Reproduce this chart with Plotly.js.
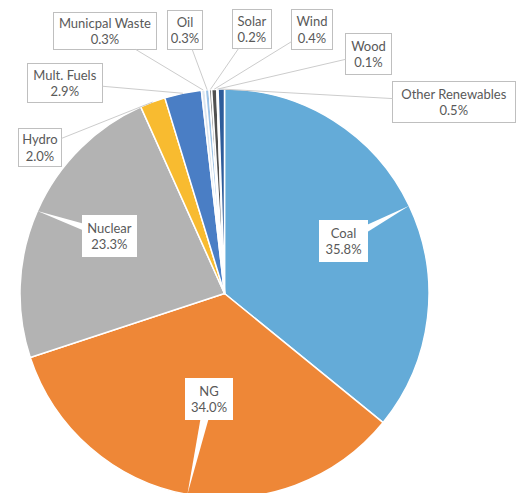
<!DOCTYPE html>
<html><head><meta charset="utf-8">
<script src="https://cdn.plot.ly/plotly-3.0.1.min.js"></script>
<style>html,body{margin:0;padding:0;overflow:hidden;background:#fff}#chart{width:521px;height:510px}</style>
</head><body><div id="chart"></div>
<script>
// ---- data ----
const sources = ['Coal','NG','Nuclear','Hydro','Mult. Fuels','Municpal Waste','Oil','Solar','Wind','Wood','Other Renewables'];
const shares  = [35.8, 34.0, 23.3, 2.0, 2.9, 0.3, 0.3, 0.2, 0.4, 0.1, 0.5];
const sliceColors = ['#64ABD8','#EE8737','#B3B3B3','#F8BB30','#4A7EC5','#DCE6F0','#9DC3E6','#8C8C8C','#505050','#D0D0D0','#2E5C9A'];

// ---- layout of callout boxes (pixel centres and sizes) ----
const boxCenterX = [343.5, 209, 109.5, 40, 65, 105, 185, 252, 312, 368.5, 454];
const boxCenterY = [241, 399, 236, 147, 83, 31, 30, 29, 29, 54, 102];
const boxW = [49, 48, 55, 44, 76, 104, 36, 40, 42, 47, 124];
const boxH = [42, 42, 42, 39, 40, 38, 40, 40, 41, 42, 42];
const insideLabel = [true, true, true, false, false, false, false, false, false, false, false];

const W = 521, H = 510;
const PX0 = 20, PX1 = 429, PY0 = 89, PY1 = 498; // pie domain in pixels
const CX = (PX0 + PX1) / 2, CY = (PY0 + PY1) / 2, R = (PX1 - PX0) / 2;
const px = v => v / W, py = v => 1 - v / H;

const total = shares.reduce((a, b) => a + b, 0);
let cum = 0;
const annotations = [], shapes = [];
const font = {family: 'Lato, "Open Sans", sans-serif', size: 13, color: '#595959'};
shares.forEach((v, i) => {
  const mid = (cum + v / 2) / total * 2 * Math.PI;
  cum += v;
  const tx = CX + R * Math.sin(mid), ty = CY - R * Math.cos(mid);
  const bx = boxCenterX[i], by = boxCenterY[i];
  const text = sources[i] + '<br>' + v.toFixed(1) + '%';
  if (insideLabel[i]) {
    const dx = tx - bx, dy = ty - by, L = Math.hypot(dx, dy);
    const nx = -dy / L * 5, ny = dx / L * 5;
    shapes.push({type: 'path', xref: 'paper', yref: 'paper', layer: 'above',
      path: `M${px(bx + nx)},${py(by + ny)} L${px(tx)},${py(ty)} L${px(bx - nx)},${py(by - ny)} Z`,
      fillcolor: '#FFFFFF', line: {width: 0}});
    annotations.push({xref: 'paper', yref: 'paper', x: px(bx), y: py(by), text: text,
      showarrow: false, xanchor: 'center', yanchor: 'middle', align: 'center', valign: 'middle',
      bgcolor: '#FFFFFF', bordercolor: '#FFFFFF', borderwidth: 1, borderpad: 3,
      width: boxW[i] - 8, height: boxH[i] - 8, font: font});
  } else {
    annotations.push({xref: 'paper', yref: 'paper', x: px(tx), y: py(ty), text: text,
      showarrow: true, arrowhead: 0, arrowwidth: 1, arrowcolor: '#CCCCCC',
      ax: bx - tx, ay: by - ty, align: 'center', valign: 'middle',
      bgcolor: '#FFFFFF', bordercolor: '#BFBFBF', borderwidth: 1, borderpad: 3,
      width: boxW[i] - 8, height: boxH[i] - 8, font: font});
  }
});

const trace = {
  type: 'pie', labels: sources, values: shares, sort: false,
  direction: 'clockwise', rotation: 0, textinfo: 'none', hoverinfo: 'none',
  marker: {colors: sliceColors, line: {color: '#FFFFFF', width: 1.5}},
  domain: {x: [px(PX0), px(PX1)], y: [py(PY1), py(PY0)]},
  showlegend: false
};

Plotly.newPlot('chart', [trace], {
  width: W, height: H, margin: {l: 0, r: 0, t: 0, b: 0},
  paper_bgcolor: '#FFFFFF', showlegend: false,
  annotations: annotations, shapes: shapes
}, {displayModeBar: false, staticPlot: true});
</script>
</body></html>
